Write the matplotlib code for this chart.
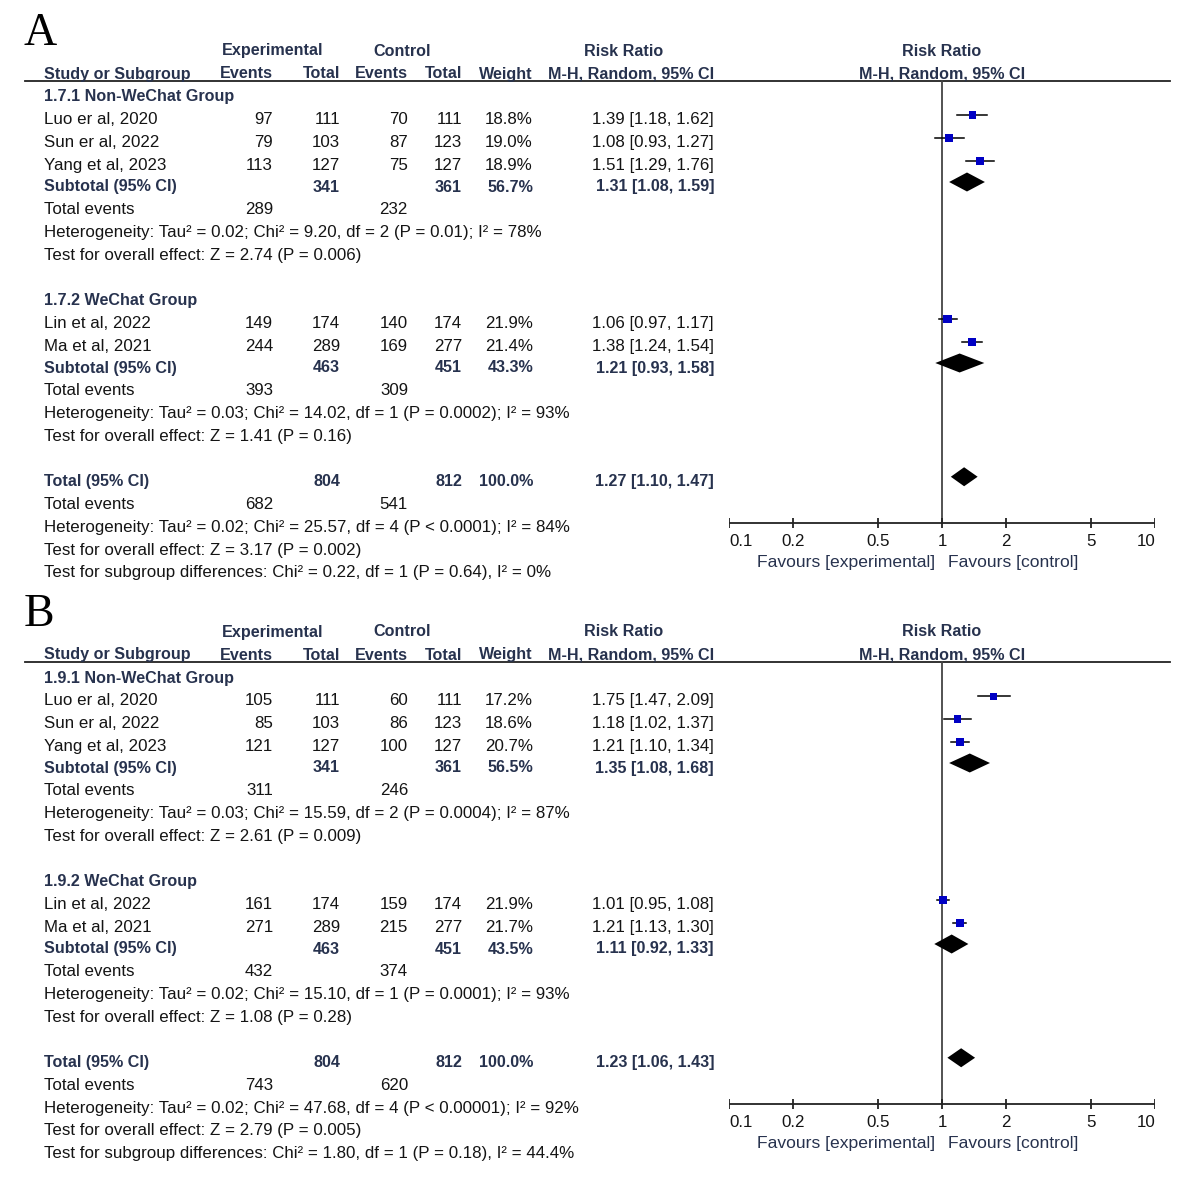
import matplotlib
matplotlib.use("Agg")
import matplotlib.pyplot as plt

plt.rcParams['font.family'] = ['Liberation Sans', 'DejaVu Sans']

# ---------------- data ----------------
panel_labels = ["A", "B"]
group_names_A = ["1.7.1 Non-WeChat Group", "1.7.2 WeChat Group"]
group_names_B = ["1.9.1 Non-WeChat Group", "1.9.2 WeChat Group"]

studies = ["Luo er al, 2020", "Sun er al, 2022", "Yang et al, 2023", "Lin et al, 2022", "Ma et al, 2021"]
study_group = [0, 0, 0, 1, 1]

A_exp_events = [97, 79, 113, 149, 244]
A_exp_total = [111, 103, 127, 174, 289]
A_ctl_events = [70, 87, 75, 140, 169]
A_ctl_total = [111, 123, 127, 174, 277]
A_weight = [18.8, 19.0, 18.9, 21.9, 21.4]
A_rr = [1.39, 1.08, 1.51, 1.06, 1.38]
A_lo = [1.18, 0.93, 1.29, 0.97, 1.24]
A_hi = [1.62, 1.27, 1.76, 1.17, 1.54]

A_sub_exp_total = [341, 463]
A_sub_ctl_total = [361, 451]
A_sub_weight = [56.7, 43.3]
A_sub_rr = [1.31, 1.21]
A_sub_lo = [1.08, 0.93]
A_sub_hi = [1.59, 1.58]
A_sub_exp_events = [289, 393]
A_sub_ctl_events = [232, 309]
A_sub_het = ["Heterogeneity: Tau\u00b2 = 0.02; Chi\u00b2 = 9.20, df = 2 (P = 0.01); I\u00b2 = 78%",
             "Heterogeneity: Tau\u00b2 = 0.03; Chi\u00b2 = 14.02, df = 1 (P = 0.0002); I\u00b2 = 93%"]
A_sub_test = ["Test for overall effect: Z = 2.74 (P = 0.006)",
              "Test for overall effect: Z = 1.41 (P = 0.16)"]
A_tot = dict(exp_total=804, ctl_total=812, weight=100.0, rr=1.27, lo=1.10, hi=1.47,
             exp_events=682, ctl_events=541)
A_tot_het = "Heterogeneity: Tau\u00b2 = 0.02; Chi\u00b2 = 25.57, df = 4 (P < 0.0001); I\u00b2 = 84%"
A_tot_test = "Test for overall effect: Z = 3.17 (P = 0.002)"
A_tot_sub = "Test for subgroup differences: Chi\u00b2 = 0.22, df = 1 (P = 0.64), I\u00b2 = 0%"

B_exp_events = [105, 85, 121, 161, 271]
B_exp_total = [111, 103, 127, 174, 289]
B_ctl_events = [60, 86, 100, 159, 215]
B_ctl_total = [111, 123, 127, 174, 277]
B_weight = [17.2, 18.6, 20.7, 21.9, 21.7]
B_rr = [1.75, 1.18, 1.21, 1.01, 1.21]
B_lo = [1.47, 1.02, 1.10, 0.95, 1.13]
B_hi = [2.09, 1.37, 1.34, 1.08, 1.30]

B_sub_exp_total = [341, 463]
B_sub_ctl_total = [361, 451]
B_sub_weight = [56.5, 43.5]
B_sub_rr = [1.35, 1.11]
B_sub_lo = [1.08, 0.92]
B_sub_hi = [1.68, 1.33]
B_sub_exp_events = [311, 432]
B_sub_ctl_events = [246, 374]
B_sub_het = ["Heterogeneity: Tau\u00b2 = 0.03; Chi\u00b2 = 15.59, df = 2 (P = 0.0004); I\u00b2 = 87%",
             "Heterogeneity: Tau\u00b2 = 0.02; Chi\u00b2 = 15.10, df = 1 (P = 0.0001); I\u00b2 = 93%"]
B_sub_test = ["Test for overall effect: Z = 2.61 (P = 0.009)",
              "Test for overall effect: Z = 1.08 (P = 0.28)"]
B_tot = dict(exp_total=804, ctl_total=812, weight=100.0, rr=1.23, lo=1.06, hi=1.43,
             exp_events=743, ctl_events=620)
B_tot_het = "Heterogeneity: Tau\u00b2 = 0.02; Chi\u00b2 = 47.68, df = 4 (P < 0.00001); I\u00b2 = 92%"
B_tot_test = "Test for overall effect: Z = 2.79 (P = 0.005)"
B_tot_sub = "Test for subgroup differences: Chi\u00b2 = 1.80, df = 1 (P = 0.18), I\u00b2 = 44.4%"

axis_ticks = [0.1, 0.2, 0.5, 1, 2, 5, 10]
axis_tick_labels = ["0.1", "0.2", "0.5", "1", "2", "5", "10"]

# ---------------- layout ----------------
W, H = 1197, 1200
fig = plt.figure(figsize=(W / 100, H / 100), dpi=100)
ax = fig.add_axes([0, 0, 1, 1])
ax.set_xlim(0, W)
ax.set_ylim(H, 0)
ax.axis('off')

FX0, FX1 = 729, 1155
fax = fig.add_axes([FX0 / W, 0, (FX1 - FX0) / W, 1])
fax.set_xscale('log')
fax.set_xlim(0.1, 10)
fax.set_ylim(H, 0)
fax.axis('off')

HEAD = '#27324e'
TXT = '#141414'
FS = 12.2
FSB = 11.6
SQ = '#0000c4'
BL = 5.5  # baseline offset from visual row centre

X_NAME = 44
X_EE, X_ET, X_CE, X_CT, X_W, X_RR = 273, 340, 408, 462, 533, 714
X_FC = 942


def txt(x, y, s, ha='left', bold=False, color=None, fs=None):
    ax.text(x, y + BL, s, ha=ha, va='baseline', fontsize=fs or (FSB if bold else FS),
            fontweight='bold' if bold else 'normal',
            color=color or (HEAD if bold else TXT))


def rrtxt(r, l, h):
    return f"{r:.2f} [{l:.2f}, {h:.2f}]"


def draw_panel(off, label, gnames, ee, et, ce, ct, w, rr, lo, hi,
               s_et, s_ct, s_w, s_rr, s_lo, s_hi, s_ee, s_ce, s_het, s_test,
               tot, t_het, t_test, t_sub):
    step = 22.75
    ax.text(24, off + 45, label, ha='left', va='baseline', fontsize=33,
            family='Liberation Serif', color='black')
    # headers
    y1, y2 = off + 50, off + 73
    txt(273, y1, "Experimental", ha='center', bold=True)
    txt(402, y1, "Control", ha='center', bold=True)
    txt(624, y1, "Risk Ratio", ha='center', bold=True)
    txt(X_FC, y1, "Risk Ratio", ha='center', bold=True)
    txt(X_NAME, y2, "Study or Subgroup", bold=True)
    txt(X_EE, y2, "Events", ha='right', bold=True)
    txt(X_ET, y2, "Total", ha='right', bold=True)
    txt(X_CE, y2, "Events", ha='right', bold=True)
    txt(X_CT, y2, "Total", ha='right', bold=True)
    txt(X_W, y2, "Weight", ha='right', bold=True)
    txt(X_RR, y2, "M-H, Random, 95% CI", ha='right', bold=True)
    txt(X_FC, y2, "M-H, Random, 95% CI", ha='center', bold=True)
    ax.plot([25, 1170], [off + 81, off + 81], color='#222222', lw=1.3)

    y = off + 96
    for g in range(2):
        txt(X_NAME, y, gnames[g], bold=True)
        y += step
        members = [i for i in range(len(studies)) if study_group[i] == g]
        for i in members:
            txt(X_NAME, y, studies[i])
            txt(X_EE, y, str(ee[i]), ha='right')
            txt(X_ET, y, str(et[i]), ha='right')
            txt(X_CE, y, str(ce[i]), ha='right')
            txt(X_CT, y, str(ct[i]), ha='right')
            txt(X_W, y, f"{w[i]:.1f}%", ha='right')
            txt(X_RR, y, rrtxt(rr[i], lo[i], hi[i]), ha='right')
            fax.plot([lo[i], hi[i]], [y - 3.5, y - 3.5], color='black', lw=1.1, zorder=2)
            fax.scatter([rr[i]], [y - 3.5], marker='s', s=1.6 * w[i], color=SQ,
                        edgecolors='none', zorder=3)
            y += step
        y -= 1
        txt(X_NAME, y, "Subtotal (95% CI)", bold=True)
        txt(X_ET, y, str(s_et[g]), ha='right', bold=True)
        txt(X_CT, y, str(s_ct[g]), ha='right', bold=True)
        txt(X_W, y, f"{s_w[g]:.1f}%", ha='right', bold=True)
        txt(X_RR, y, rrtxt(s_rr[g], s_lo[g], s_hi[g]), ha='right', bold=True)
        yc = y - 4
        fax.fill([s_lo[g], s_rr[g], s_hi[g], s_rr[g]], [yc, yc - 9.5, yc, yc + 9.5],
                 color='black', zorder=3, lw=0)
        y += step
        txt(X_NAME, y, "Total events")
        txt(X_EE, y, str(s_ee[g]), ha='right')
        txt(X_CE, y, str(s_ce[g]), ha='right')
        y += step
        txt(X_NAME, y, s_het[g])
        y += step
        txt(X_NAME, y, s_test[g])
        y += 2 * step
    txt(X_NAME, y, "Total (95% CI)", bold=True)
    txt(X_ET, y, str(tot['exp_total']), ha='right', bold=True)
    txt(X_CT, y, str(tot['ctl_total']), ha='right', bold=True)
    txt(X_W, y, f"{tot['weight']:.1f}%", ha='right', bold=True)
    txt(X_RR, y, rrtxt(tot['rr'], tot['lo'], tot['hi']), ha='right', bold=True)
    yc = y - 4
    fax.fill([tot['lo'], tot['rr'], tot['hi'], tot['rr']], [yc, yc - 9.5, yc, yc + 9.5],
             color='black', zorder=3, lw=0)
    y += step
    txt(X_NAME, y, "Total events")
    txt(X_EE, y, str(tot['exp_events']), ha='right')
    txt(X_CE, y, str(tot['ctl_events']), ha='right')
    y += step
    txt(X_NAME, y, t_het)
    y += step
    txt(X_NAME, y, t_test)
    y += step
    txt(X_NAME, y, t_sub)

    # forest axis
    ya = off + 523
    fax.plot([1, 1], [off + 81, ya], color='#444444', lw=1.3, zorder=1)
    fax.plot([0.1, 10], [ya, ya], color='#222222', lw=1.3)
    fax.vlines(axis_ticks, ya - 5, ya + 5, color='#222222', lw=1.3)
    n = len(axis_ticks)
    for k, (t, tl) in enumerate(zip(axis_ticks, axis_tick_labels)):
        ha = 'left' if k == 0 else ('right' if k == n - 1 else 'center')
        fax.text(t, ya + 23, tl, ha=ha, va='baseline', fontsize=FS, color=TXT)
    fax.text(0.927, ya + 44, "Favours [experimental]", ha='right', va='baseline',
             fontsize=12.6, color=HEAD)
    fax.text(1.067, ya + 44, "Favours [control]", ha='left', va='baseline',
             fontsize=12.6, color=HEAD)


draw_panel(0, panel_labels[0], group_names_A, A_exp_events, A_exp_total, A_ctl_events,
           A_ctl_total, A_weight, A_rr, A_lo, A_hi, A_sub_exp_total, A_sub_ctl_total,
           A_sub_weight, A_sub_rr, A_sub_lo, A_sub_hi, A_sub_exp_events, A_sub_ctl_events,
           A_sub_het, A_sub_test, A_tot, A_tot_het, A_tot_test, A_tot_sub)
draw_panel(581, panel_labels[1], group_names_B, B_exp_events, B_exp_total, B_ctl_events,
           B_ctl_total, B_weight, B_rr, B_lo, B_hi, B_sub_exp_total, B_sub_ctl_total,
           B_sub_weight, B_sub_rr, B_sub_lo, B_sub_hi, B_sub_exp_events, B_sub_ctl_events,
           B_sub_het, B_sub_test, B_tot, B_tot_het, B_tot_test, B_tot_sub)

fig.savefig("out.png", dpi=100)
